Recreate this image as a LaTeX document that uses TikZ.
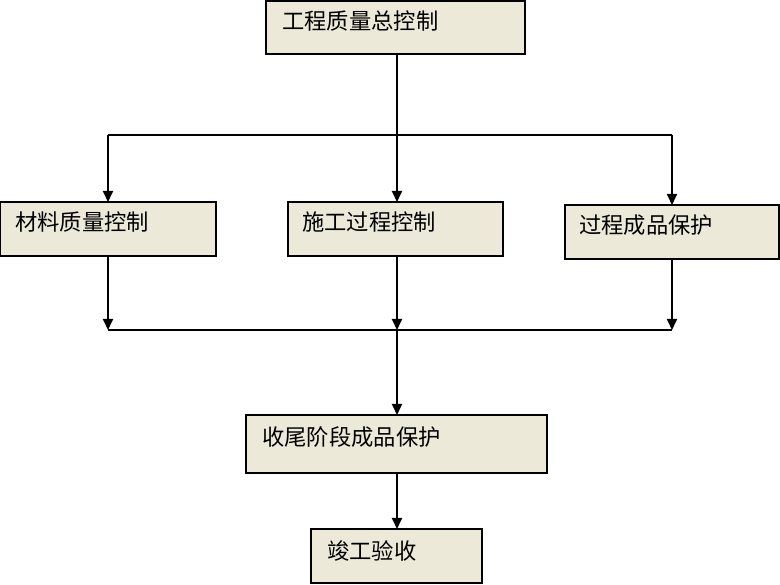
\documentclass[tikz,border=0pt]{standalone}
\usepackage{fontspec}
\newfontfamily\cjk{Noto Sans CJK SC}
\usetikzlibrary{arrows.meta}
\definecolor{boxfill}{HTML}{ECE9D8}
\begin{document}
\begin{tikzpicture}[x=1pt,y=-1pt,
  box/.style={draw=black,line width=2pt,fill=boxfill},
  lbl/.style={anchor=west,inner sep=0pt,font=\cjk\fontsize{22.3}{25}\selectfont},
  conn/.style={line width=1.8pt},
  arr/.style={conn,-{Triangle[length=11pt,width=10pt]}}]
\useasboundingbox (0,0) rectangle (780,585);
% boxes
\draw[box] (266,1) rectangle (525,54);
\draw[box] (0,202) rectangle (216,256);
\draw[box] (288,202) rectangle (503,256);
\draw[box] (565,205) rectangle (779,259);
\draw[box] (246,415) rectangle (547,473);
\draw[box] (311,529) rectangle (482,583);
% box anchors as coordinates
\coordinate (topB) at (397,54);
\coordinate (b1T) at (108,202); \coordinate (b1B) at (108,256);
\coordinate (b2T) at (397,202); \coordinate (b2B) at (397,256);
\coordinate (b3T) at (672,205); \coordinate (b3B) at (672,259);
\coordinate (b4T) at (397,415); \coordinate (b4B) at (397,473);
\coordinate (b5T) at (397,529);
\coordinate (splitL) at (108,135); \coordinate (splitM) at (397,135); \coordinate (splitR) at (672,135);
\coordinate (joinL) at (108,330); \coordinate (joinM) at (397,330); \coordinate (joinR) at (672,330);
% labels
\node[lbl] (t0) at (282,21) {工程质量总控制};
\node[lbl] (t1) at (15,222) {材料质量控制};
\node[lbl] (t2) at (302,222) {施工过程控制};
\node[lbl] (t3) at (579,225) {过程成品保护};
\node[lbl] (t4) at (262,437) {收尾阶段成品保护};
\node[lbl] (t5) at (327,551) {竣工验收};
% connectors
\draw[conn] (topB) -- (splitM);
\draw[conn] (splitL) -- (splitR);
\draw[arr] (splitL) -- (b1T);
\draw[arr] (splitM) -- (b2T);
\draw[arr] (splitR) -- (b3T);
\draw[arr] (b1B) -- (joinL);
\draw[arr] (b2B) -- (joinM);
\draw[arr] (b3B) -- (joinR);
\draw[conn] (joinL) -- (joinR);
\draw[arr] (joinM) -- (b4T);
\draw[arr] (b4B) -- (b5T);
\end{tikzpicture}
\end{document}
